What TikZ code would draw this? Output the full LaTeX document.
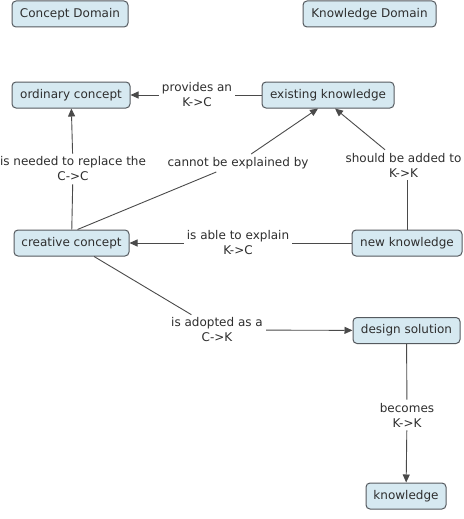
\documentclass[tikz,border=0pt]{standalone}
\usepackage{fontspec}
\setmainfont{DejaVu Sans}
\usetikzlibrary{arrows.meta}
\definecolor{boxfill}{HTML}{D6E9F1}
\definecolor{boxline}{HTML}{555A5F}
\definecolor{txt}{HTML}{2E2E2E}
\definecolor{ln}{HTML}{4A4A4A}
\begin{document}
\begin{tikzpicture}[x=1pt,y=-1pt,
 concept/.style={draw=boxline, fill=boxfill, rounded corners=4pt, line width=1pt, minimum height=26pt, inner xsep=4pt, text=txt, font=\fontsize{12}{15}\selectfont},
 lab/.style={align=center, inner sep=3pt, text=txt, font=\fontsize{12}{15}\selectfont},
 conn/.style={draw=ln, line width=0.9pt},
 arr/.style={conn, -{Triangle[length=8pt,width=7pt]}}]
\useasboundingbox (0,0) rectangle (463,519);
\fill[white] (0,0) rectangle (463,519);
\node[concept, minimum width=116pt] (cd) at (70,14) {Concept Domain};
\node[concept, minimum width=133pt] (kd) at (369.5,14) {Knowledge Domain};
\node[concept, minimum width=118pt] (oc) at (71,95) {ordinary concept};
\node[concept, minimum width=132pt] (ek) at (328,95) {existing knowledge};
\node[concept, minimum width=115pt] (cc) at (71.5,243) {creative concept};
\node[concept, minimum width=110pt] (nk) at (407,243) {new knowledge};
\node[concept, minimum width=107pt] (ds) at (406.5,330.5) {design solution};
\node[concept, minimum width=80pt] (kn) at (406,496) {knowledge};

\node[lab] (l1) at (197,95) {provides an\\K->C};
\node[lab] (l2) at (73,169) {is needed to replace the\\C->C};
\node[lab] (l3) at (238,163) {cannot be explained by};
\node[lab] (l4) at (403.5,165) {should be added to\\K->K};
\node[lab] (l5) at (238,243) {is able to explain\\K->C};
\node[lab] (l6) at (217,330) {is adopted as a\\C->K};
\node[lab] (l7) at (407,415) {becomes\\K->K};

\draw[conn] (ek) -- (l1); \draw[arr] (l1) -- (oc);
\draw[conn] (cc) -- (l2); \draw[arr] (l2) -- (oc);
\draw[conn] ([xshift=6pt]cc.north) -- (l3); \draw[arr] (l3) -- ([xshift=-10pt]ek.south);
\draw[conn] (nk.north) -- (nk.north |- l4.south); \draw[arr] (l4) -- ([xshift=7pt]ek.south);
\draw[conn] (nk) -- (l5); \draw[arr] (l5) -- (cc);
\draw[conn] (cc) -- (l6); \draw[arr] (l6) -- (ds);
\draw[conn] (ds) -- (l7); \draw[arr] (l7) -- (kn);
\end{tikzpicture}
\end{document}
